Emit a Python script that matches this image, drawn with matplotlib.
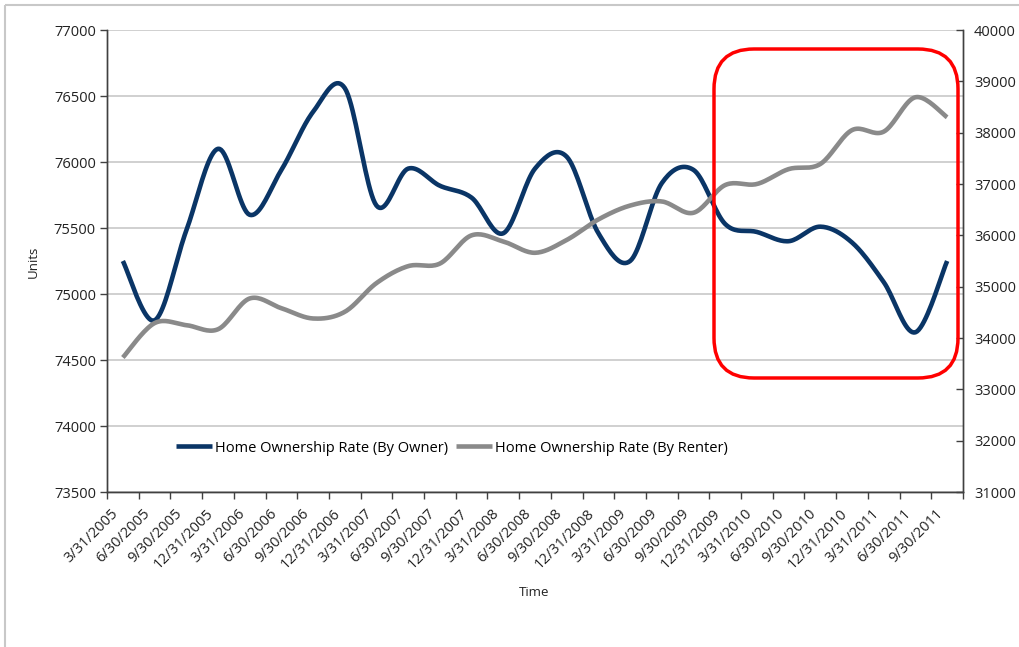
import numpy as np
import matplotlib
matplotlib.use("Agg")
import matplotlib.pyplot as plt
import matplotlib.transforms as mtransforms
from matplotlib.patches import FancyBboxPatch, Rectangle

# quarterly dates shown on the x axis
quarters = [
    "3/31/2005", "6/30/2005", "9/30/2005", "12/31/2005",
    "3/31/2006", "6/30/2006", "9/30/2006", "12/31/2006",
    "3/31/2007", "6/30/2007", "9/30/2007", "12/31/2007",
    "3/31/2008", "6/30/2008", "9/30/2008", "12/31/2008",
    "3/31/2009", "6/30/2009", "9/30/2009", "12/31/2009",
    "3/31/2010", "6/30/2010", "9/30/2010", "12/31/2010",
    "3/31/2011", "6/30/2011", "9/30/2011",
]
# left axis series
by_owner = [
    75250, 74800, 75480, 76100, 75600, 75940, 76380, 76560, 75670,
    75950, 75820, 75730, 75460, 75950, 76040, 75460, 75250, 75840,
    75940, 75530, 75470, 75400, 75510, 75390, 75090, 74710, 75250,
]
# right axis series
by_renter = [
    33620, 34290, 34250, 34170, 34770, 34580, 34380, 34510, 35070,
    35400, 35450, 36000, 35880, 35660, 35910, 36310, 36580, 36660,
    36440, 36980, 37000, 37290, 37390, 38050, 38020, 38690, 38300,
]


def smooth(x, y, n=20):
    # Catmull-Rom spline through the points, like Excel's smoothed line
    x = np.asarray(x, float)
    y = np.asarray(y, float)
    px = np.concatenate([[x[0]], x, [x[-1]]])
    py = np.concatenate([[y[0]], y, [y[-1]]])
    xs, ys = [], []
    t = np.linspace(0, 1, n, endpoint=False)
    for i in range(1, len(px) - 2):
        for p, out in ((px, xs), (py, ys)):
            p0, p1, p2, p3 = p[i - 1], p[i], p[i + 1], p[i + 2]
            out.extend(0.5 * (2 * p1 + (-p0 + p2) * t
                              + (2 * p0 - 5 * p1 + 4 * p2 - p3) * t ** 2
                              + (-p0 + 3 * p1 - 3 * p2 + p3) * t ** 3))
    xs.append(x[-1])
    ys.append(y[-1])
    return np.array(xs), np.array(ys)


plt.rcParams["font.family"] = ["Open Sans", "DejaVu Sans"]
blue = "#0a3566"
grey = "#8a8a8a"
dark = "#404040"

fig = plt.figure(figsize=(10.19, 6.47), dpi=100)
ax = fig.add_axes([107 / 1019, 155 / 647, 856 / 1019, 462 / 647])
ax2 = ax.twinx()

x = np.arange(len(quarters))
l1, = ax.plot(*smooth(x, by_owner), color=blue, lw=3.3,
              solid_capstyle="butt", label="Home Ownership Rate (By Owner)")
l2, = ax2.plot(*smooth(x, by_renter), color=grey, lw=3.3,
               solid_capstyle="butt", label="Home Ownership Rate (By Renter)")

ax.set_xlim(-0.5, len(quarters) - 0.5)
ax.set_ylim(73500, 77000)
ax.set_yticks(np.arange(73500, 77001, 500))
ax2.set_ylim(31000, 40000)
ax2.set_yticks(np.arange(31000, 40001, 1000))

# tick marks between categories, labels under category centres
ax.set_xticks(np.arange(-0.5, len(quarters)), labels=[])
ax.set_xticks(x, labels=quarters, minor=True, rotation=45, ha="right",
              rotation_mode="anchor")
ax.tick_params(axis="x", which="major", length=5, color=dark, width=1)
ax.tick_params(axis="x", which="minor", length=0, pad=10, labelsize=10.5,
               labelcolor="#222222")
offset = mtransforms.ScaledTranslation(-12 / 100, 0, fig.dpi_scale_trans)
for lab in ax.get_xticklabels(minor=True):
    lab.set_transform(lab.get_transform() + offset)
ax.tick_params(axis="y", length=5, color=dark, width=1, labelsize=10.5,
               labelcolor="#222222", pad=3)
ax2.tick_params(axis="y", direction="in", length=5, color=dark, width=1,
                labelsize=10.5, labelcolor="#222222", pad=8)

ax.grid(axis="y", color="#c8c8c8", lw=1.2)
ax.set_axisbelow(True)
for a in (ax, ax2):
    a.spines["top"].set_visible(False)
    for s in ("left", "right", "bottom"):
        a.spines[s].set_color(dark)
        a.spines[s].set_linewidth(1)

fig.text(33 / 1019, 1 - 262 / 647, "Units", fontsize=9.5, rotation=90,
         ha="center", va="center", color="#222222")
fig.text(534 / 1019, 1 - 593 / 647, "Time", fontsize=9.5, ha="center",
         va="center", color="#222222")

fig.legend(handles=[l1, l2], loc="center left", frameon=False, ncol=2,
           bbox_to_anchor=(176 / 1019, 1 - 448 / 647), fontsize=10.5,
           handlelength=2.5, handletextpad=0.2, columnspacing=0.5,
           borderpad=0, borderaxespad=0)

# overlay in pixel units for the chart border and the red callout box
over = fig.add_axes([0, 0, 1, 1], zorder=5)
over.set_xlim(0, 1019)
over.set_ylim(647, 0)
over.axis("off")
over.add_patch(Rectangle((5, 5), 1030, 660, fill=False, ec="#c8c8c8", lw=1.5))
over.add_patch(FancyBboxPatch((714, 49), 244, 329,
                              boxstyle="round,pad=0,rounding_size=40",
                              fill=False, ec="#ff0000", lw=2.5))

fig.savefig("out.png", dpi=100)
